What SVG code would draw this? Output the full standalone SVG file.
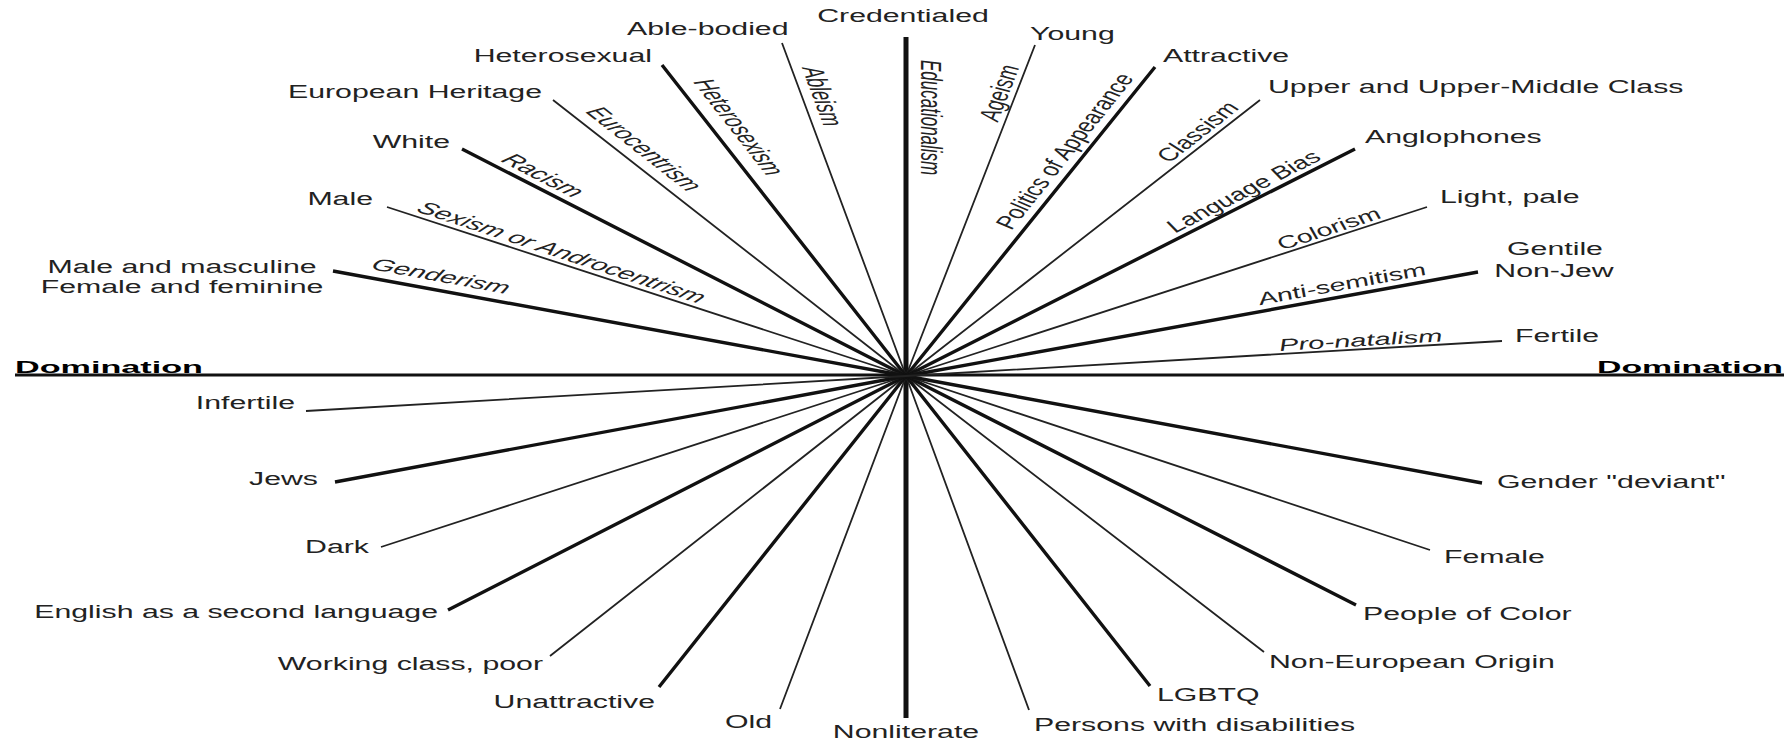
<svg xmlns="http://www.w3.org/2000/svg" width="1791" height="745" viewBox="0 0 1791 745">
<style>
.lbl{font-family:"Liberation Sans",Arial,Helvetica,sans-serif;font-size:17.6px;fill:#222}
.it{font-family:"Liberation Sans",Arial,Helvetica,sans-serif;font-size:17px;font-style:italic;fill:#222}
.dom{font-family:"Liberation Sans",Arial,Helvetica,sans-serif;font-size:17px;font-weight:bold;fill:#000}
.thick{stroke:#111;stroke-width:3.4;fill:none;stroke-linejoin:round}
.thin{stroke:#222;stroke-width:1.8;fill:none;stroke-linejoin:round}
.mid{text-anchor:middle}
.end{text-anchor:end}
</style>
<rect width="1791" height="745" fill="#fff"/>
<g id="connectors">
<path d="M15 375 L1784 375" stroke="#111" stroke-width="3" fill="none"/>
<path d="M906 37 L906 718" stroke="#111" stroke-width="5" fill="none"/>
<path class="thin" d="M782 43 L906 376 L1029 710"/>
<path class="thick" d="M662 65 L906 376 L1150 686"/>
<path class="thin" d="M553 100 L906 376 L1264 652"/>
<path class="thick" d="M462 149 L906 376 L1356 605"/>
<path class="thin" d="M387 207 L906 376 L1430 550"/>
<path class="thick" d="M333 271 L906 376 L1482 483"/>
<path class="thin" d="M1035 45 L906 376 L780 709"/>
<path class="thick" d="M1155 67 L906 376 L659 687"/>
<path class="thin" d="M1260 100 L906 376 L550 656"/>
<path class="thick" d="M1355 149 L906 376 L448 610"/>
<path class="thin" d="M1427 207 L906 376 L381 547"/>
<path class="thick" d="M1478 272 L906 376 L335 482"/>
<path class="thin" d="M1502 341 L906 376 L306 411"/>
</g>
<g id="spoke-labels">
<text class="it" transform="translate(921,60) scale(1.72,1) rotate(90)">Educationalism</text>
<text class="it" transform="translate(802,68) scale(1.72,1) rotate(77.8)">Ableism</text>
<text class="it" transform="translate(693,82) scale(1.72,1) rotate(65.5)">Heterosexism</text>
<text class="it" transform="translate(585,112) scale(1.72,1) rotate(53.4)">Eurocentrism</text>
<text class="it" transform="translate(500,161) scale(1.72,1) rotate(41.3)">Racism</text>
<text class="it" transform="translate(415,211) scale(1.72,1) rotate(29.3)">Sexism or Androcentrism</text>
<text class="it" transform="translate(370,269) scale(1.72,1) rotate(17.5)">Genderism</text>
<text class="it" transform="translate(998,122) scale(1.72,1) rotate(-77.2)">Ageism</text>
<text class="it" transform="translate(1012,230) scale(1.72,1) rotate(-64.9)">Politics of Appearance</text>
<text class="it" transform="translate(1170,163) scale(1.72,1) rotate(-53.3)">Classism</text>
<text class="it" transform="translate(1176,233) scale(1.72,1) rotate(-41)">Language Bias</text>
<text class="it" transform="translate(1283,250) scale(1.72,1) rotate(-29.2)">Colorism</text>
<text class="it" transform="translate(1261,305) scale(1.72,1) rotate(-17.4)">Anti-semitism</text>
<text class="it" transform="translate(1280,351) scale(1.72,1) rotate(-5.8)">Pro-natalism</text>
</g>
<g id="domination-left"><text class="dom" x="15" y="373" textLength="188" lengthAdjust="spacingAndGlyphs">Domination</text></g>
<g id="domination-right"><text class="dom" x="1597" y="373" textLength="186" lengthAdjust="spacingAndGlyphs">Domination</text></g>
<g id="credentialed"><text class="lbl mid" transform="translate(903,22) scale(1.72,1)">Credentialed</text></g>
<g id="able-bodied"><text class="lbl" transform="translate(627,35) scale(1.72,1)">Able-bodied</text></g>
<g id="heterosexual"><text class="lbl end" transform="translate(652,62) scale(1.72,1)">Heterosexual</text></g>
<g id="european-heritage"><text class="lbl end" transform="translate(542,98) scale(1.72,1)">European Heritage</text></g>
<g id="white"><text class="lbl end" transform="translate(450,148) scale(1.72,1)">White</text></g>
<g id="male"><text class="lbl end" transform="translate(373,205) scale(1.72,1)">Male</text></g>
<g id="gender-binary">
<text class="lbl mid" transform="translate(182,273) scale(1.72,1)">Male and masculine</text>
<text class="lbl mid" transform="translate(182,293) scale(1.72,1)">Female and feminine</text>
</g>
<g id="young"><text class="lbl" transform="translate(1030,40) scale(1.72,1)">Young</text></g>
<g id="attractive"><text class="lbl" transform="translate(1163,62) scale(1.72,1)">Attractive</text></g>
<g id="upper-class"><text class="lbl" transform="translate(1268,93) scale(1.72,1)">Upper and Upper-Middle Class</text></g>
<g id="anglophones"><text class="lbl" transform="translate(1365,143) scale(1.72,1)">Anglophones</text></g>
<g id="light-pale"><text class="lbl" transform="translate(1440,203) scale(1.72,1)">Light, pale</text></g>
<g id="gentile">
<text class="lbl mid" transform="translate(1555,255) scale(1.72,1)">Gentile</text>
<text class="lbl mid" transform="translate(1554,277) scale(1.72,1)">Non-Jew</text>
</g>
<g id="fertile"><text class="lbl" transform="translate(1515,342) scale(1.72,1)">Fertile</text></g>
<g id="infertile"><text class="lbl end" transform="translate(295,409) scale(1.72,1)">Infertile</text></g>
<g id="jews"><text class="lbl end" transform="translate(318,485) scale(1.72,1)">Jews</text></g>
<g id="dark"><text class="lbl end" transform="translate(369,553) scale(1.72,1)">Dark</text></g>
<g id="esl"><text class="lbl end" transform="translate(438,618) scale(1.72,1)">English as a second language</text></g>
<g id="working-class"><text class="lbl end" transform="translate(543,670) scale(1.72,1)">Working class, poor</text></g>
<g id="unattractive"><text class="lbl end" transform="translate(655,708) scale(1.72,1)">Unattractive</text></g>
<g id="old"><text class="lbl end" transform="translate(772,728) scale(1.72,1)">Old</text></g>
<g id="nonliterate"><text class="lbl mid" transform="translate(906,738) scale(1.72,1)">Nonliterate</text></g>
<g id="disabilities"><text class="lbl" transform="translate(1034,731) scale(1.72,1)">Persons with disabilities</text></g>
<g id="lgbtq"><text class="lbl" transform="translate(1157,701) scale(1.72,1)">LGBTQ</text></g>
<g id="non-european"><text class="lbl" transform="translate(1269,668) scale(1.72,1)">Non-European Origin</text></g>
<g id="people-of-color"><text class="lbl" transform="translate(1363,620) scale(1.72,1)">People of Color</text></g>
<g id="female"><text class="lbl" transform="translate(1444,563) scale(1.72,1)">Female</text></g>
<g id="gender-deviant"><text class="lbl" transform="translate(1497,488) scale(1.72,1)">Gender "deviant"</text></g>
</svg>
